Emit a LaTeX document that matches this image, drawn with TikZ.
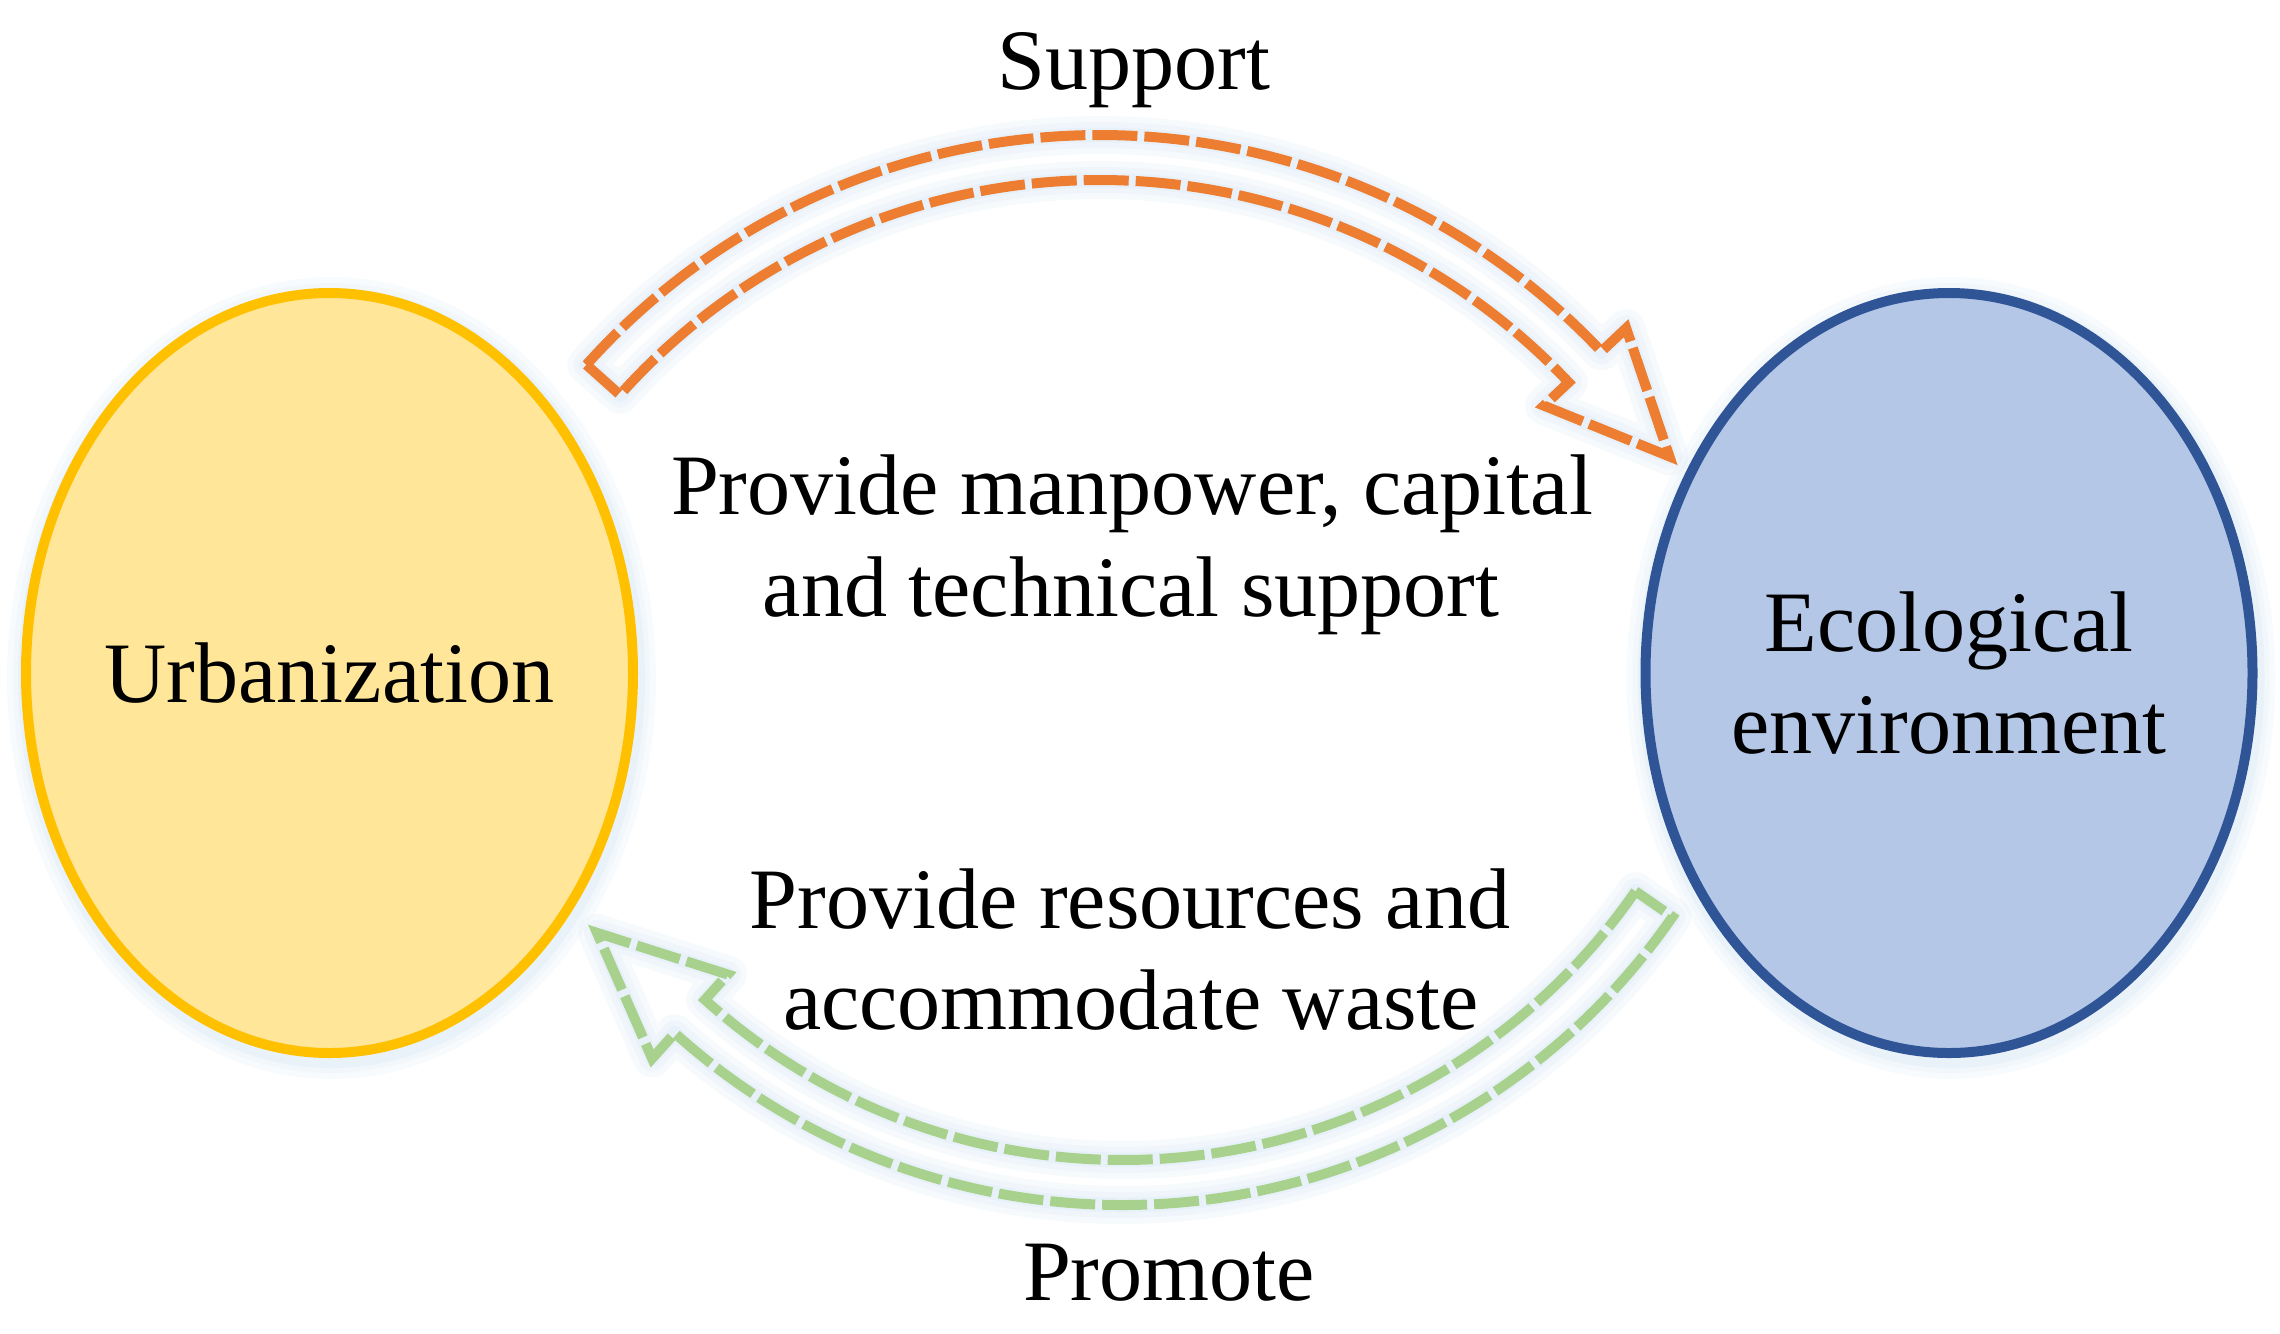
\documentclass[tikz,border=0pt]{standalone}
\usepackage{fontspec}
\setmainfont{Liberation Serif}
\usetikzlibrary{shapes.geometric,calc}
\definecolor{orangeA}{HTML}{ED7D31}
\definecolor{greenA}{HTML}{A9D18E}
\definecolor{yellowB}{HTML}{FFC000}
\definecolor{yellowF}{HTML}{FFE699}
\definecolor{blueB}{HTML}{2F5597}
\definecolor{blueF}{HTML}{B4C7E7}
\definecolor{glowc}{HTML}{BDD7EE}
\begin{document}
\begin{tikzpicture}[
  bigtext/.style={font=\fontsize{24.5}{29}\selectfont, inner sep=0pt},
  circ/.style={ellipse, minimum width=6.07cm, minimum height=7.60cm, inner xsep=-2.6cm, inner ysep=0pt,
    line width=0.1cm, align=center, font=\fontsize{24.5}{29}\selectfont},
  blockarrow/.style={line width=0.1cm, dash pattern=on 0.45cm off 0.07cm, line join=miter},
  glowline/.style={draw=glowc, line width=#1, opacity=0.13, line join=round},
  orangeshape/.style={insert path={
    ($(O1)+(138.2:6.89)$) arc[start angle=138.2, end angle=43.3, radius=6.89]
    -- ($(O1)+(43.3:7.23)$) -- ($(O1)+(43.3:6.665)+(-46.7:1.23)$)
    -- ($(O1)+(43.3:6.10)$) -- ($(O1)+(43.3:6.44)$)
    arc[start angle=43.3, end angle=138.2, radius=6.44] -- cycle}},
  greenshape/.style={insert path={
    ($(O2)+(-34.7:6.24)$) arc[start angle=-34.7, end angle=-132, radius=6.24]
    -- ($(O2)+(-132:5.90)$) -- ($(O2)+(-132:6.465)+(138:1.25)$)
    -- ($(O2)+(-132:7.03)$) -- ($(O2)+(-132:6.69)$)
    arc[start angle=-132, end angle=-34.7, radius=6.69] -- cycle}},
]
\useasboundingbox (0,0) rectangle (22.8,-13.33);

% centres of the curved block arrows
\coordinate (O1) at (11.00,-8.24);
\coordinate (O2) at (11.225,-5.36);

% soft glow under the ellipses
\foreach \r/\o in {0.16/0.10,0.10/0.12,0.05/0.15}{
  \fill[glowc, opacity=\o] (3.315,-6.78) ellipse[x radius=3.085+\r, y radius=3.85+\r];
  \fill[glowc, opacity=\o] (19.51,-6.78) ellipse[x radius=3.085+\r, y radius=3.85+\r];
}

% ellipses
\node[circ, draw=yellowB, fill=yellowF] (urb) at (3.295,-6.73) {Urbanization};
\node[circ, draw=blueB, fill=blueF] (eco) at (19.49,-6.73) {Ecological\\environment};

% glow under the block arrows
\begin{scope}[yshift=-0.04cm]
\foreach \w in {0.38cm,0.26cm,0.15cm}{
  \path[glowline=\w, orangeshape];
  \path[glowline=\w, greenshape];
}
\end{scope}

% block arrows
\path[draw=orangeA, blockarrow, orangeshape];
\path[draw=greenA, blockarrow, greenshape];

% labels
\node[bigtext, anchor=base] (sup) at (11.34,-0.89) {Support};
\node[bigtext, anchor=base] (pm1) at (11.32,-5.14) {Provide manpower, capital};
\node[bigtext, anchor=base] (pm2) at (11.31,-6.16) {and technical support};
\node[bigtext, anchor=base] (pr1) at (11.30,-9.28) {Provide resources and};
\node[bigtext, anchor=base] (pr2) at (11.31,-10.29) {accommodate waste};
\node[bigtext, anchor=base] (pro) at (11.69,-13.00) {Promote};
\end{tikzpicture}
\end{document}
